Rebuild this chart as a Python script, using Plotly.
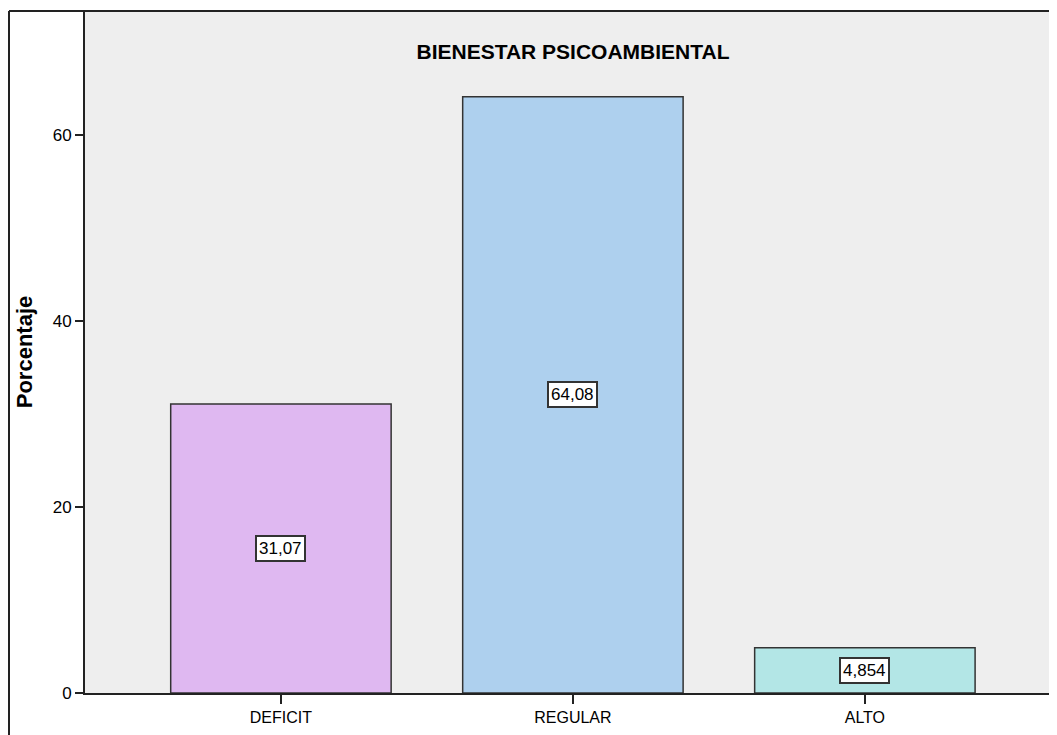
import plotly.graph_objects as go

categorias = ["DEFICIT", "REGULAR", "ALTO"]
porcentajes = [31.07, 64.08, 4.854]
etiquetas = ["31,07", "64,08", "4,854"]
colores = ["#dfb8f1", "#aed0ee", "#b3e6e6"]

pos = list(range(len(categorias)))
FUENTE = "Liberation Sans, Arial"

fig = go.Figure()
fig.add_trace(go.Bar(
    x=pos,
    y=porcentajes,
    width=0.755,
    marker=dict(color=colores, line=dict(color="#333333", width=1.5)),
    hoverinfo="skip",
))

# etiquetas en cuadro blanco a media altura de cada barra
for p, v, t in zip(pos, porcentajes, etiquetas):
    fig.add_annotation(
        x=p, y=v / 2, text=t, showarrow=False,
        font=dict(family=FUENTE, size=17, color="#000000"),
        bgcolor="white", bordercolor="#333333", borderwidth=2, borderpad=2,
    )

# la pagina tiene 8px de margen en body
W, H = 1049, 727
L, T, B = 77, 3, 42
plot_w, plot_h = W - L, H - T - B
fx = (1 - L) / plot_w
fy_bottom = -(B + 10) / plot_h

fig.add_shape(type="line", xref="paper", yref="paper",
              x0=fx, x1=fx, y0=fy_bottom, y1=1.0,
              line=dict(color="#222222", width=2))
fig.add_shape(type="line", xref="paper", yref="paper",
              x0=fx, x1=1.02, y0=1.0, y1=1.0,
              line=dict(color="#222222", width=2))

fig.update_layout(
    width=W, height=H,
    margin=dict(l=L, r=0, t=T, b=B, pad=0),
    paper_bgcolor="white",
    plot_bgcolor="#eeeeee",
    showlegend=False,
    font=dict(family=FUENTE, size=16, color="#000000"),
    title=dict(text="<b>BIENESTAR PSICOAMBIENTAL</b>", x=565 / W, xanchor="center",
               y=1 - 44 / H, yanchor="middle",
               font=dict(family=FUENTE, size=21, color="#000000")),
    xaxis=dict(
        tickmode="array", tickvals=pos, ticktext=categorias,
        range=[-0.671, 2.658],
        showgrid=False, zeroline=False,
        showline=True, linecolor="#222222", linewidth=2,
        ticks="outside", ticklen=9, tickcolor="#222222", tickwidth=1.5,
        tickfont=dict(size=16),
    ),
    yaxis=dict(
        range=[0, 73.3],
        tickvals=[0, 20, 40, 60],
        showgrid=False, zeroline=False,
        showline=True, linecolor="#222222", linewidth=2,
        ticks="outside", ticklen=8, tickcolor="#222222", tickwidth=1.5,
        tickfont=dict(size=17),
        title=dict(text="<b>Porcentaje</b>", standoff=14,
                   font=dict(family=FUENTE, size=22)),
    ),
)

fig.write_html("out.html")
